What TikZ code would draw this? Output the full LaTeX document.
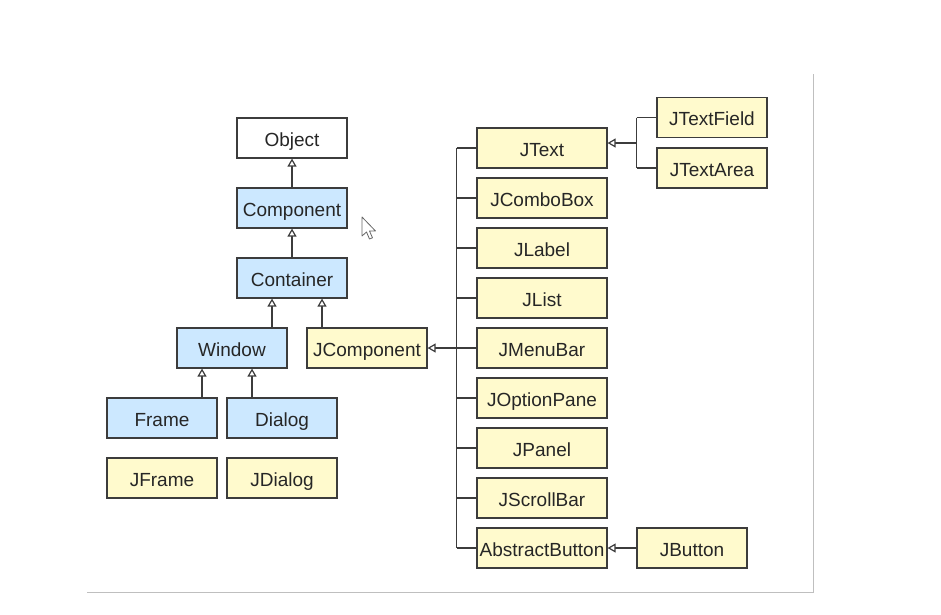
\documentclass[tikz,border=0pt]{standalone}
\usepackage{fontspec}
\setmainfont{Liberation Sans}
\usetikzlibrary{arrows.meta, positioning}
\definecolor{awtblue}{RGB}{204,232,255}
\definecolor{swingyellow}{RGB}{255,250,205}
\definecolor{edge}{RGB}{60,60,60}

\begin{document}
\begin{tikzpicture}[x=1pt, y=-1pt,
    cls/.style={draw=edge, line width=1.2pt, minimum width=110pt, minimum height=40pt,
        inner sep=0pt, text height=19pt, text depth=3pt,
        font=\fontsize{19}{21}\selectfont, text=black!85},
    awt/.style={cls, fill=awtblue},
    swing/.style={cls, fill=swingyellow},
    wide/.style={minimum width=130pt},
    link/.style={draw=edge, line width=1.2pt},
    inh/.style={link, -{Triangle[open, length=8pt, width=9pt, fill=white]}}]
    \useasboundingbox (0,0) rectangle (941,614);
    \draw[black!25, line width=1pt] (87,592) -- (813,592) -- (813,74);

    % AWT side
    \node[cls, fill=white] (object) at (292,138) {Object};
    \node[awt] (component) at (292,208) {Component};
    \node[awt] (container) at (292,278) {Container};
    \node[awt] (window) at (232,348) {Window};
    \node[swing, minimum width=120pt] (jcomp) at (367,348) {JComponent};
    \node[awt] (frame) at (162,418) {Frame};
    \node[awt] (dialog) at (282,418) {Dialog};
    \node[swing] (jframe) at (162,478) {JFrame};
    \node[swing] (jdialog) at (282,478) {JDialog};

    \draw[inh] (component) -- (object);
    \draw[inh] (container) -- (component);
    \draw[inh] ([xshift=-20pt]container.south |- window.north) -- ([xshift=-20pt]container.south);
    \draw[inh] ([xshift=30pt]container.south |- jcomp.north) -- ([xshift=30pt]container.south);
    \draw[inh] ([xshift=-30pt]window.south |- frame.north) -- ([xshift=-30pt]window.south);
    \draw[inh] ([xshift=20pt]window.south |- dialog.north) -- ([xshift=20pt]window.south);

    % Swing side
    \node[swing, wide] (jtext) at (542,148) {JText};
    \node[swing, wide] (jcombo) at (542,198) {JComboBox};
    \node[swing, wide] (jlabel) at (542,248) {JLabel};
    \node[swing, wide] (jlist) at (542,298) {JList};
    \node[swing, wide] (jmenubar) at (542,348) {JMenuBar};
    \node[swing, wide] (joption) at (542,398) {JOptionPane};
    \node[swing, wide] (jpanel) at (542,448) {JPanel};
    \node[swing, wide] (jscroll) at (542,498) {JScrollBar};
    \node[swing, wide] (abutton) at (542,548) {AbstractButton};
    \node[swing] (jtextfield) at (712,117.5) {JTextField};
    \node[swing] (jtextarea) at (712,168) {JTextArea};
    \node[swing] (jbutton) at (692,548) {JButton};

    \coordinate (bus) at (456.5,348);
    \coordinate (tbus) at (636.5,143);
    \draw[link] (jtext.west -| bus) -- (abutton.west -| bus);
    \draw[link] (jtext.west -| bus) -- (jtext.west);
    \draw[link] (jcombo.west -| bus) -- (jcombo.west);
    \draw[link] (jlabel.west -| bus) -- (jlabel.west);
    \draw[link] (jlist.west -| bus) -- (jlist.west);
    \draw[link] (jmenubar.west -| bus) -- (jmenubar.west);
    \draw[link] (joption.west -| bus) -- (joption.west);
    \draw[link] (jpanel.west -| bus) -- (jpanel.west);
    \draw[link] (jscroll.west -| bus) -- (jscroll.west);
    \draw[link] (abutton.west -| bus) -- (abutton.west);
    \draw[inh] (jcomp.east -| bus) -- (jcomp.east);

    \draw[link] (jtextfield.west -| tbus) -- (jtextarea.west -| tbus);
    \draw[link] (jtextfield.west -| tbus) -- (jtextfield.west);
    \draw[link] (jtextarea.west -| tbus) -- (jtextarea.west);
    \draw[inh] (tbus) -- (tbus -| jtext.east);
    \draw[inh] (jbutton) -- (abutton);

    % mouse pointer
    \draw[black!60, fill=white, line width=0.8pt, line join=round]
        (362,217) -- (362,236) -- (366.5,232) -- (369.5,239) -- (372.5,237.8)
        -- (369.5,231) -- (375.5,231) -- cycle;
\end{tikzpicture}
\end{document}
